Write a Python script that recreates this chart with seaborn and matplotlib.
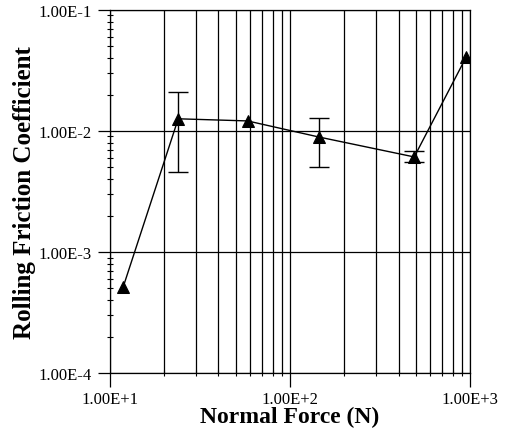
import numpy as np
import pandas as pd
import matplotlib
matplotlib.use("Agg")
import matplotlib.pyplot as plt
import matplotlib.ticker as mticker
import seaborn as sns

# data
force = [11.8, 23.9, 58.0, 145.0, 489.0, 950.0]
coef = [5.1e-4, 1.26e-2, 1.21e-2, 8.9e-3, 6.1e-3, 4.07e-2]
err_low = [np.nan, 4.6e-3, np.nan, 5.0e-3, 5.5e-3, np.nan]
err_high = [np.nan, 2.1e-2, np.nan, 1.28e-2, 6.8e-3, np.nan]

df = pd.DataFrame({"force": force, "coef": coef, "lo": err_low, "hi": err_high})

sns.set_theme(style="white", rc={"text.color": "black", "axes.labelcolor": "black",
                                 "xtick.color": "black", "ytick.color": "black"})
plt.rcParams["font.family"] = ["Liberation Serif", "DejaVu Serif"]

fig = plt.figure(figsize=(5.05, 4.35), dpi=100)
ax = fig.add_axes([0.218, 0.140, 0.713, 0.835])

ax.set_xscale("log")
ax.set_yscale("log")

sns.lineplot(data=df, x="force", y="coef", ax=ax, color="black", linewidth=1.0,
             marker="^", markersize=9, markeredgecolor="black", markerfacecolor="black")

eb = df.dropna()
ax.errorbar(eb["force"], eb["coef"],
            yerr=[eb["coef"] - eb["lo"], eb["hi"] - eb["coef"]],
            fmt="none", ecolor="black", elinewidth=1.0, capsize=7, capthick=1.0)

ax.set_xlim(10, 1000)
ax.set_ylim(1e-4, 1e-1)

ax.xaxis.set_major_locator(mticker.LogLocator(base=10, numticks=10))
ax.xaxis.set_minor_locator(mticker.LogLocator(base=10, subs=np.arange(2, 10), numticks=20))
ax.yaxis.set_major_locator(mticker.LogLocator(base=10, numticks=10))
ax.yaxis.set_minor_locator(mticker.LogLocator(base=10, subs=np.arange(2, 10), numticks=20))
fmt = mticker.FuncFormatter(lambda v, p: f"{v:.2E}".replace("E+0", "E+").replace("E-0", "E-"))
ax.xaxis.set_major_formatter(fmt)
ax.yaxis.set_major_formatter(fmt)
ax.xaxis.set_minor_formatter(mticker.NullFormatter())
ax.yaxis.set_minor_formatter(mticker.NullFormatter())

ax.grid(True, which="both", axis="x", color="black", linewidth=0.9)
ax.grid(True, which="major", axis="y", color="black", linewidth=0.9)

ax.tick_params(axis="x", which="major", direction="out", length=10, width=0.9,
               labelsize=12, pad=3, bottom=True)
ax.tick_params(axis="x", which="minor", direction="inout", length=5, width=0.8, bottom=True)
ax.tick_params(axis="y", which="major", direction="out", length=9, width=0.9,
               labelsize=12, left=True, pad=4)
ax.tick_params(axis="y", which="minor", direction="inout", length=5, width=0.8, left=True)

for s in ax.spines.values():
    s.set_color("black")
    s.set_linewidth(0.9)

ax.set_xlabel("Normal Force (N)", fontsize=17, fontweight="bold", labelpad=-1)
ax.set_ylabel("Rolling Friction Coefficient", fontsize=18, fontweight="bold", labelpad=2)

fig.savefig("out.png", dpi=100)
